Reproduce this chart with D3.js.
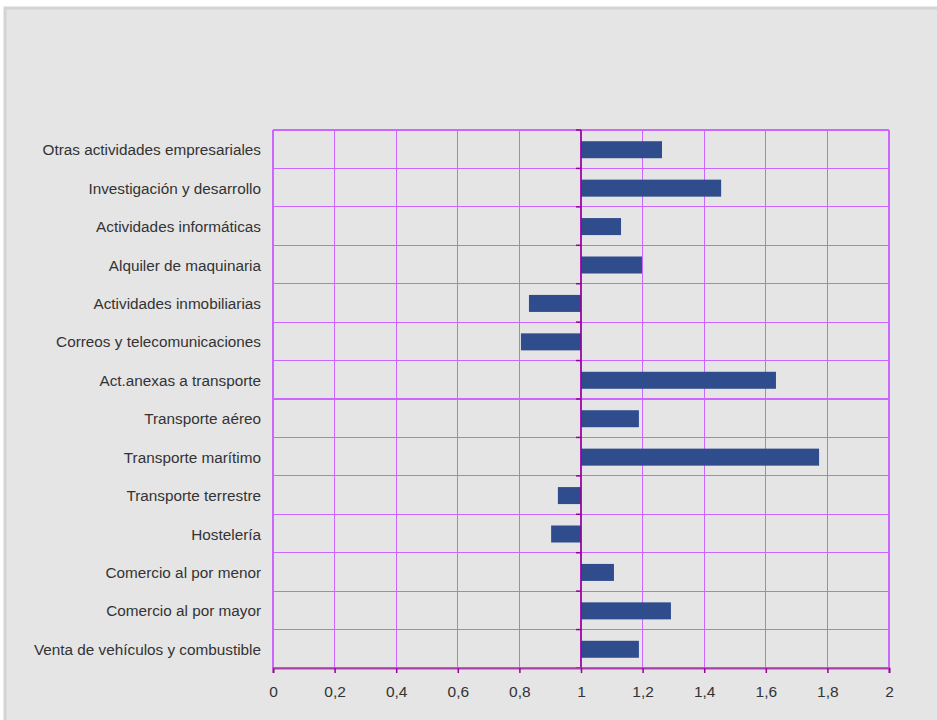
<!DOCTYPE html>
<html><head><meta charset="utf-8">
<script src="https://cdn.jsdelivr.net/npm/d3@7"></script>
<style>body{margin:0;background:#fff;}svg{display:block;}</style>
</head><body>
<svg id="c" width="937" height="720"></svg>
<script>
const categories = [
  "Otras actividades empresariales",
  "Investigación y desarrollo",
  "Actividades informáticas",
  "Alquiler de maquinaria",
  "Actividades inmobiliarias",
  "Correos y telecomunicaciones",
  "Act.anexas a transporte",
  "Transporte aéreo",
  "Transporte marítimo",
  "Transporte terrestre",
  "Hostelería",
  "Comercio al por menor",
  "Comercio al por mayor",
  "Venta de vehículos y combustible"
];
const values = [1.263, 1.455, 1.130, 1.198, 0.831, 0.805, 1.633, 1.188, 1.773, 0.925, 0.903, 1.107, 1.292, 1.188];
const xTicks = [0, 0.2, 0.4, 0.6, 0.8, 1, 1.2, 1.4, 1.6, 1.8, 2];
const baseline = 1;

const FONT = "'Liberation Sans', Arial, Helvetica, sans-serif";
const svg = d3.select("#c");
// panel
svg.append("rect").attr("x", 5).attr("y", 8).attr("width", 940).attr("height", 720)
  .attr("fill", "#e5e5e5").attr("stroke", "#d4d4d4").attr("stroke-width", 3);

const L = 273, R = 889, T = 130, B = 668;
const x = d3.scaleLinear().domain([0, 2]).range([L, R]);
const y = d3.scaleBand().domain(categories).range([T, B]).paddingInner(0).paddingOuter(0);
const bw = y.bandwidth();
const barH = 17;
const grid = "#cc66ff";

// vertical gridlines
svg.append("g").selectAll("line").data(xTicks).join("line")
  .attr("x1", d => x(d)).attr("x2", d => x(d)).attr("y1", T).attr("y2", B)
  .attr("stroke", grid).attr("stroke-width", 1.2).attr("shape-rendering", "crispEdges");
// horizontal gridlines
const bounds = categories.map(c => y(c)).concat([B]);
svg.append("g").selectAll("line").data(bounds).join("line")
  .attr("x1", L).attr("x2", R).attr("y1", d => d).attr("y2", d => d)
  .attr("stroke", grid).attr("stroke-width", 1.2).attr("shape-rendering", "crispEdges");

// bars
svg.append("g").selectAll("rect").data(values).join("rect")
  .attr("x", d => x(Math.min(d, baseline)))
  .attr("width", d => Math.abs(x(d) - x(baseline)))
  .attr("y", (d, i) => y(categories[i]) + (bw - barH) / 2 + 0.5)
  .attr("height", barH)
  .attr("fill", "#2f4d8d");

// value axis (vertical line at baseline) with ticks
const axisCol = "#990099";
svg.append("line").attr("x1", x(baseline)).attr("x2", x(baseline)).attr("y1", T).attr("y2", B)
  .attr("stroke", axisCol).attr("stroke-width", 1.5);
svg.append("g").selectAll("line").data(bounds).join("line")
  .attr("x1", x(baseline) - 5).attr("x2", x(baseline)).attr("y1", d => d).attr("y2", d => d)
  .attr("stroke", axisCol).attr("stroke-width", 1.5);

// bottom axis
const xAxis = d3.axisBottom(x).tickValues(xTicks).tickSize(5).tickPadding(13)
  .tickFormat(d => String(d).replace(".", ","));
const gx = svg.append("g").attr("transform", `translate(0,${B})`).call(xAxis);
gx.select(".domain").attr("stroke", "#b040b0").attr("stroke-width", 2);
gx.selectAll(".tick line").attr("stroke", axisCol).attr("stroke-width", 1.5);
gx.selectAll(".tick text").attr("fill", "#333").attr("font-size", 15.5)
  .attr("font-family", FONT);

// category labels
svg.append("g").selectAll("text").data(categories).join("text")
  .attr("x", 261).attr("y", d => y(d) + bw / 2 + 6)
  .attr("text-anchor", "end").attr("fill", "#333").attr("font-size", 15.3)
  .attr("font-family", FONT)
  .text(d => d);
</script>
</body></html>
